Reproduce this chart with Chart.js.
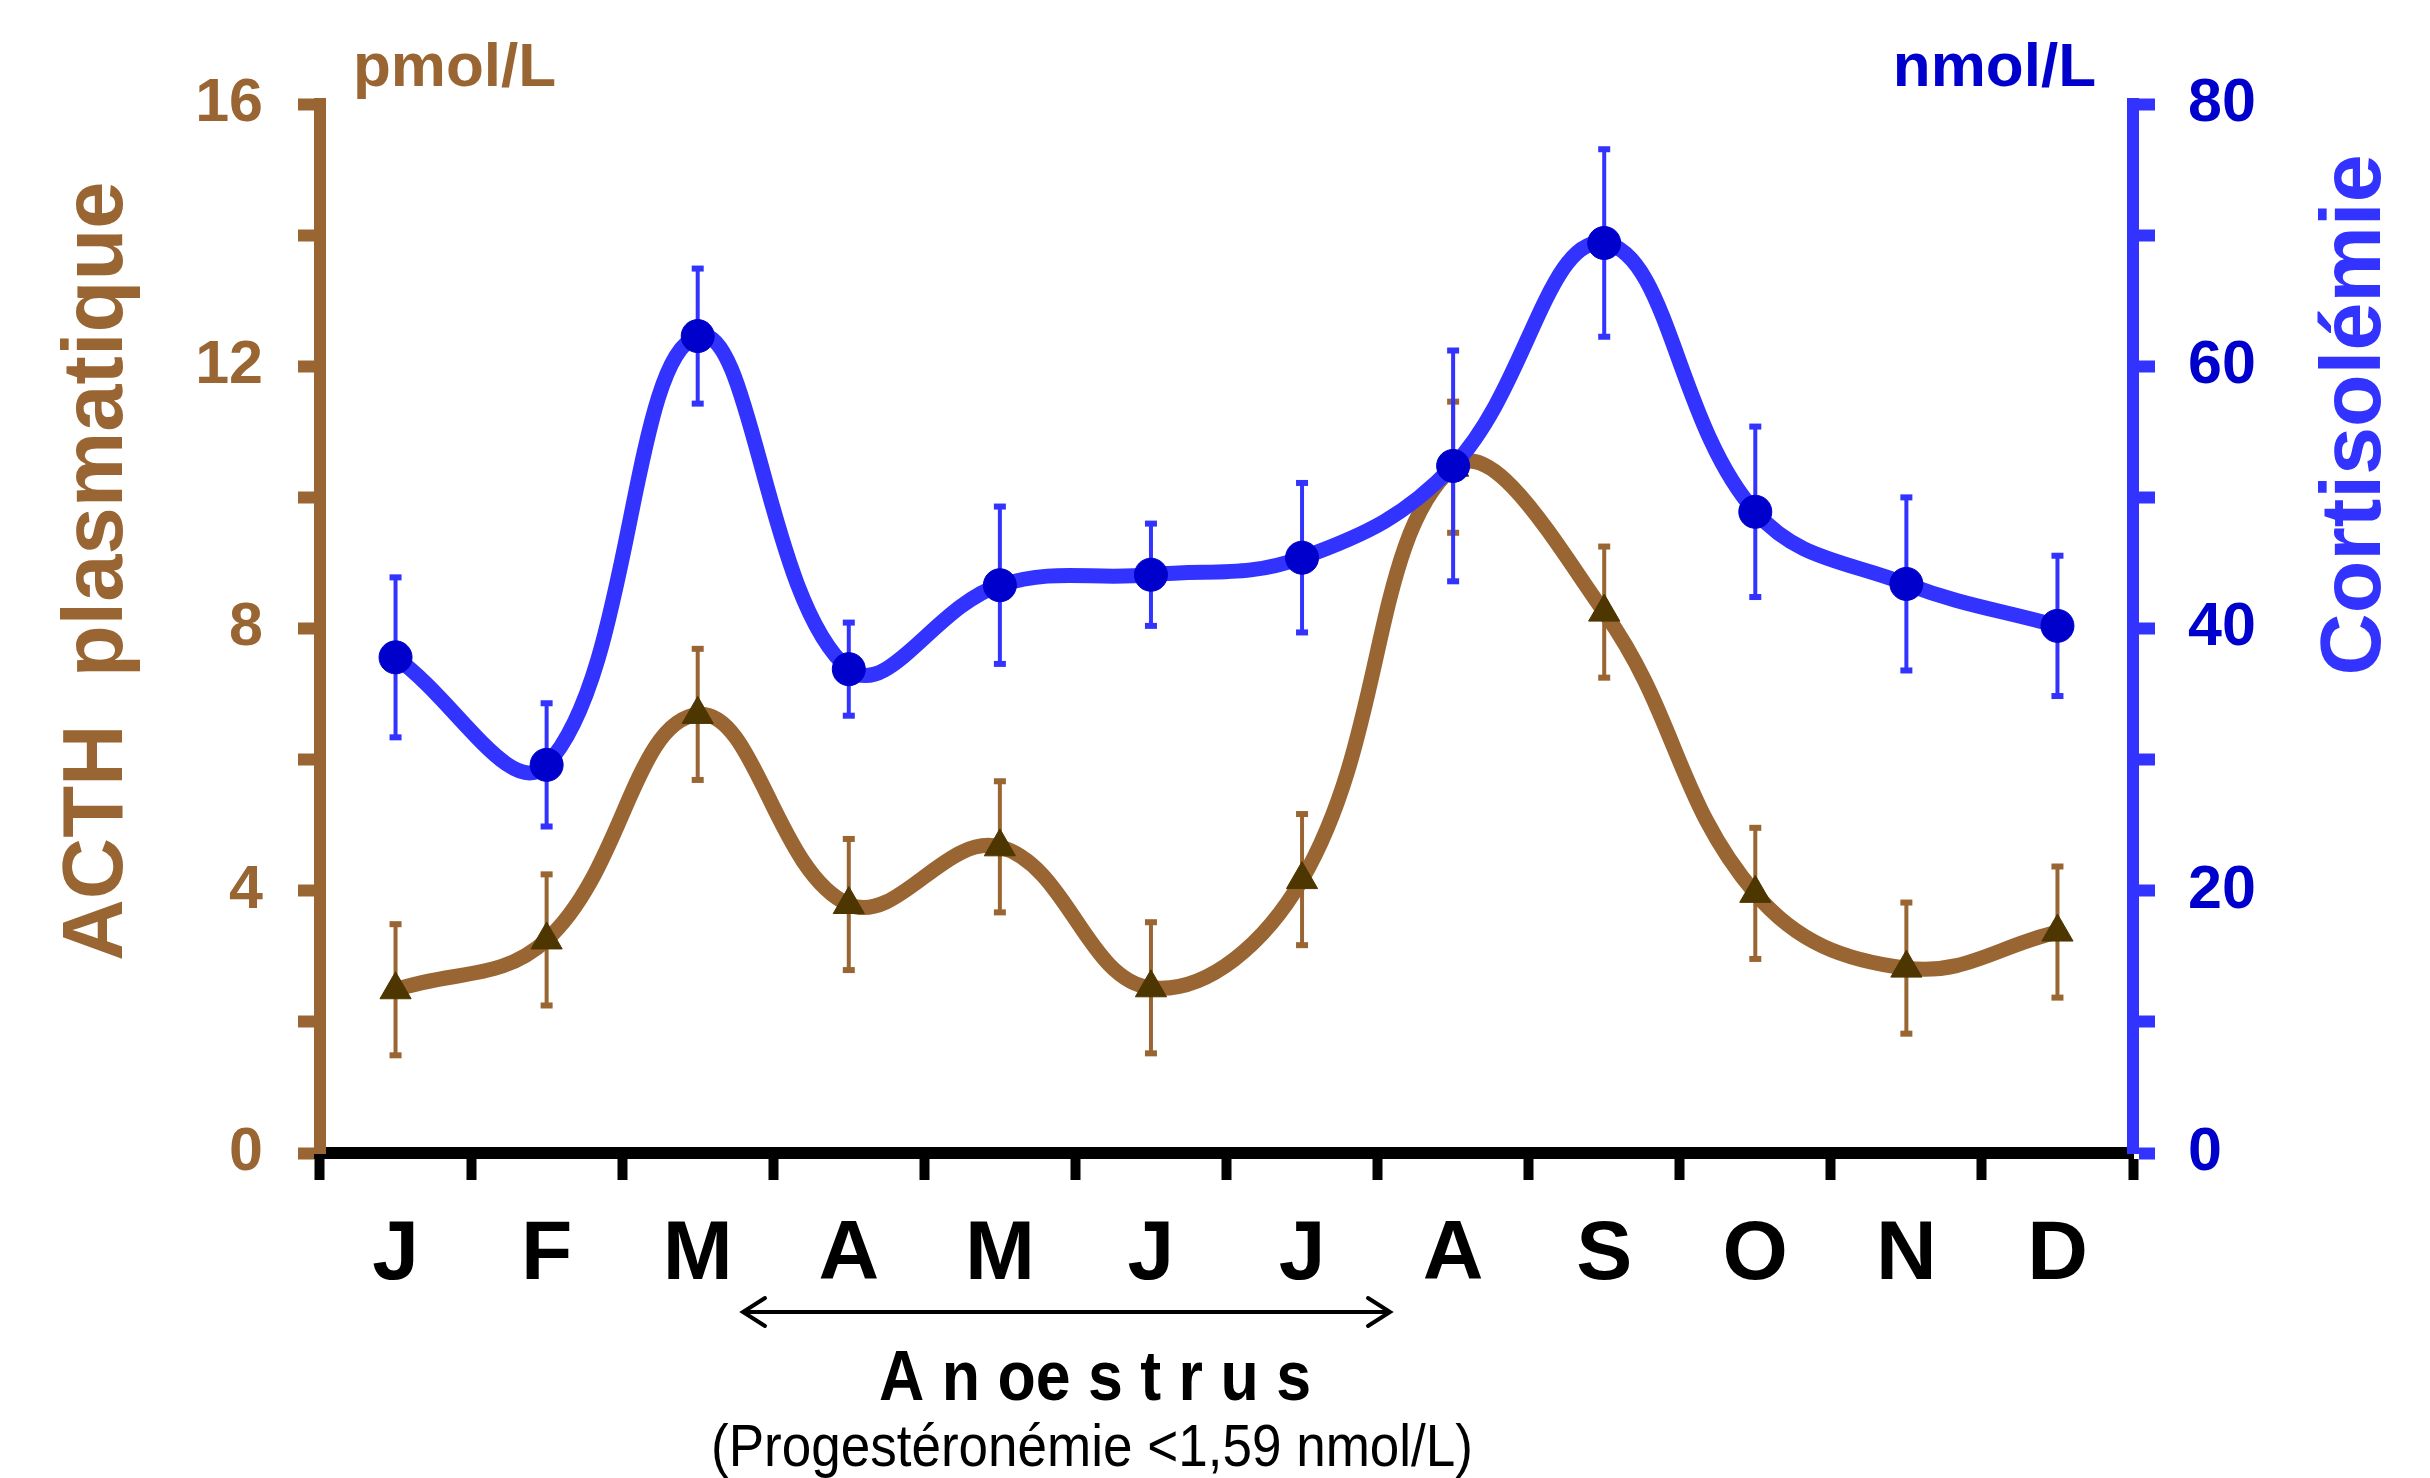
<!DOCTYPE html>
<html>
<head>
<meta charset="utf-8">
<script src="https://cdn.jsdelivr.net/npm/chart.js@4.4.1/dist/chart.umd.min.js"></script>
<style>
    html, body { margin: 0; padding: 0; background: #ffffff; }
    #chart-container { width: 2430px; height: 1478px; }
</style>
</head>
<body>
<div id="chart-container"><canvas id="chart" width="2430" height="1478"></canvas></div>
<script>
// donnees
const months = ['J', 'F', 'M', 'A', 'M', 'J', 'J', 'A', 'S', 'O', 'N', 'D'];
const acth = [2.49, 3.25, 6.69, 3.79, 4.67, 2.52, 4.17, 10.46, 8.25, 3.96, 2.82, 3.37];
const acthErr = [1.0, 1.0, 1.0, 1.0, 1.0, 1.0, 1.0, 1.0, 1.0, 1.0, 1.0, 1.0];
const cortisol = [37.8, 29.6, 62.3, 36.9, 43.3, 44.1, 45.4, 52.4, 69.4, 48.9, 43.4, 40.2];
const cortisolErr = [6.1, 4.7, 5.15, 3.55, 6.0, 3.9, 5.7, 8.8, 7.15, 6.5, 6.6, 5.35];
const acthTicks = [0, 4, 8, 12, 16];
const cortisolTicks = [0, 20, 40, 60, 80];

const brown = '#996633';
const brownDark = '#4d3600';
const blue = '#3333ff';
const blueDark = '#0000cc';
const sans = '"Liberation Sans", Arial, sans-serif';

/**
 * barres d'erreur, dessinees avant chaque serie
 * **/
const errorBars = {
    id: 'errorBars',
    beforeDatasetDraw(chart, args) {
        const ds = chart.data.datasets[args.index];
        if (!ds.errors) return;
        const ctx = chart.ctx;
        const yScale = chart.scales[args.meta.yAxisID];
        ctx.save();
        ctx.strokeStyle = ds.errorColor;
        ctx.fillStyle = ds.errorColor;
        ctx.lineWidth = 4;
        args.meta.data.forEach(function (pt, i) {
            const top = yScale.getPixelForValue(ds.data[i] + ds.errors[i]);
            const bot = yScale.getPixelForValue(ds.data[i] - ds.errors[i]);
            ctx.beginPath();
            ctx.moveTo(pt.x, top);
            ctx.lineTo(pt.x, bot);
            ctx.stroke();
            ctx.fillRect(pt.x - 6, top - 3, 12, 6);
            ctx.fillRect(pt.x - 6, bot - 3, 12, 6);
        });
        ctx.restore();
    }
};

/**
 * titres des axes, unites et fleche de l'anoestrus
 * **/
const labels = {
    id: 'labels',
    afterDraw(chart) {
        const ctx = chart.ctx;
        ctx.save();
        ctx.textBaseline = 'alphabetic';

        ctx.save();
        ctx.translate(122, 571);
        ctx.rotate(-Math.PI / 2);
        ctx.textAlign = 'center';
        ctx.fillStyle = brown;
        ctx.font = 'bold 85px ' + sans;
        ctx.fillText('ACTH  plasmatique', 0, 0);
        ctx.restore();

        ctx.save();
        ctx.translate(2380, 415);
        ctx.rotate(-Math.PI / 2);
        ctx.textAlign = 'center';
        ctx.fillStyle = blue;
        ctx.font = 'bold 86px ' + sans;
        ctx.fillText('Cortisolémie', 0, 0);
        ctx.restore();

        ctx.font = 'bold 62px ' + sans;
        ctx.fillStyle = brown;
        ctx.textAlign = 'left';
        ctx.fillText('pmol/L', 353, 86);
        ctx.fillStyle = blueDark;
        ctx.textAlign = 'right';
        ctx.fillText('nmol/L', 2096, 86);

        // fleche
        const x1 = 743, x2 = 1390, y = 1312;
        ctx.strokeStyle = '#000000';
        ctx.lineWidth = 4;
        ctx.lineCap = 'round';
        ctx.beginPath();
        ctx.moveTo(x1, y); ctx.lineTo(x2, y);
        ctx.moveTo(x1 + 22, y - 14); ctx.lineTo(x1, y); ctx.lineTo(x1 + 22, y + 14);
        ctx.moveTo(x2 - 22, y - 14); ctx.lineTo(x2, y); ctx.lineTo(x2 - 22, y + 14);
        ctx.stroke();

        ctx.fillStyle = '#000000';
        ctx.textAlign = 'center';
        ctx.font = 'bold 70px ' + sans;
        const word = 'A n oe s t r u s';
        const w = ctx.measureText(word).width;
        ctx.save();
        ctx.translate(1095, 1400);
        ctx.scale(432 / w, 1);
        ctx.fillText(word, 0, 0);
        ctx.restore();

        ctx.font = '59px ' + sans;
        const sub = '(Progestéronémie <1,59 nmol/L)';
        const w2 = ctx.measureText(sub).width;
        ctx.save();
        ctx.translate(1092, 1466);
        ctx.scale(762 / w2, 1);
        ctx.fillText(sub, 0, 0);
        ctx.restore();

        ctx.restore();
    }
};

function plottingChart() {
    const canvas = document.getElementById('chart');

    new Chart(canvas, {
        type: 'line',
        data: {
            labels: months,
            datasets: [{
                label: 'ACTH',
                data: acth,
                errors: acthErr,
                errorColor: brown,
                yAxisID: 'y',
                order: 2,
                borderColor: brown,
                borderWidth: 15,
                tension: 0.4,
                pointStyle: 'triangle',
                pointRadius: 18,
                pointBackgroundColor: brownDark,
                pointBorderColor: brownDark,
                pointBorderWidth: 1,
                fill: false
            }, {
                label: 'Cortisol',
                data: cortisol,
                errors: cortisolErr,
                errorColor: blue,
                yAxisID: 'y1',
                order: 1,
                borderColor: blue,
                borderWidth: 15,
                tension: 0.4,
                pointStyle: 'circle',
                pointRadius: 16.5,
                pointBackgroundColor: blueDark,
                pointBorderColor: blueDark,
                pointBorderWidth: 1,
                fill: false
            }]
        },
        options: {
            responsive: false,
            animation: false,
            devicePixelRatio: 1,
            layout: { padding: { top: 104, left: 0, right: 0, bottom: 0 } },
            plugins: {
                legend: { display: false },
                tooltip: { enabled: false }
            },
            scales: {
                x: {
                    offset: true,
                    afterFit: function (scale) { scale.height = 325; },
                    border: { display: true, color: '#000000', width: 12 },
                    grid: {
                        offset: true,
                        drawOnChartArea: false,
                        drawTicks: true,
                        tickLength: 27,
                        tickWidth: 10,
                        tickColor: '#000000'
                    },
                    ticks: {
                        color: '#000000',
                        padding: 25,
                        maxRotation: 0,
                        autoSkip: false,
                        font: { family: sans, size: 84, weight: 'bold' }
                    }
                },
                y: {
                    position: 'left',
                    min: 0,
                    max: 16,
                    afterFit: function (scale) { scale.width = 320; },
                    border: { display: true, color: brown, width: 12 },
                    grid: {
                        drawOnChartArea: false,
                        tickLength: 22,
                        tickWidth: 12,
                        tickColor: brown
                    },
                    ticks: {
                        stepSize: 2,
                        autoSkip: false,
                        padding: 35,
                        color: brown,
                        font: { family: sans, size: 61, weight: 'bold' },
                        callback: function (v) { return acthTicks.includes(v) ? String(v) : ''; }
                    }
                },
                y1: {
                    position: 'right',
                    min: 0,
                    max: 80,
                    afterFit: function (scale) { scale.width = 297; },
                    border: { display: true, color: blue, width: 12 },
                    grid: {
                        drawOnChartArea: false,
                        tickLength: 22,
                        tickWidth: 12,
                        tickColor: blue
                    },
                    ticks: {
                        stepSize: 10,
                        autoSkip: false,
                        padding: 33,
                        color: blueDark,
                        font: { family: sans, size: 61, weight: 'bold' },
                        callback: function (v) { return cortisolTicks.includes(v) ? String(v) : ''; }
                    }
                }
            }
        },
        plugins: [errorBars, labels]
    });
}

plottingChart();
</script>
</body>
</html>
